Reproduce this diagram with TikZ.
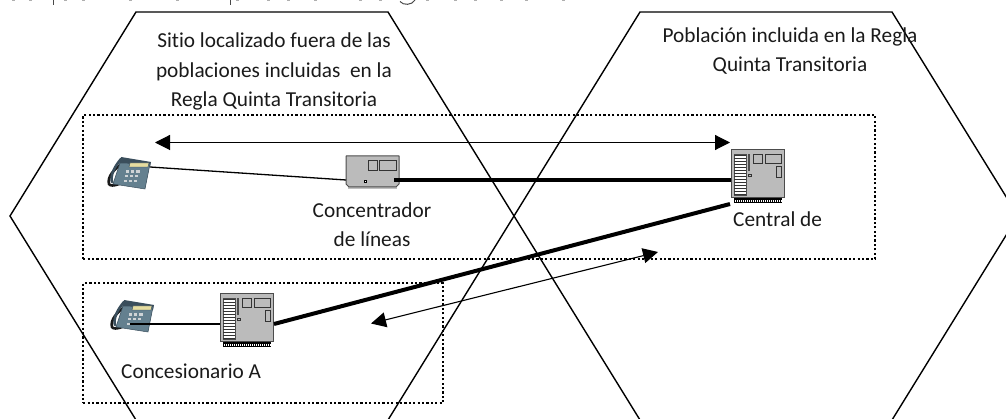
\documentclass[tikz,border=0pt]{standalone}
\usepackage{fontspec}
\setmainfont[Ligatures=NoCommon]{Carlito}
\usetikzlibrary{arrows.meta}
\definecolor{ink}{HTML}{1A1A1A}
\definecolor{boxgray}{HTML}{BBBBBB}
\definecolor{phoneblue}{HTML}{64808F}
\definecolor{phonedark}{HTML}{3A4E5C}
\definecolor{phonescreen}{HTML}{E6DDA0}
\tikzset{
  hexa/.style={draw=black,line width=1.4pt,line join=miter},
  dotbox/.style={draw=black,line width=2.4pt,dash pattern=on 2.2pt off 2.2pt},
  label/.style={text=ink,font=\fontsize{21.3}{29.5}\selectfont,align=center,inner sep=0pt},
  thinlink/.style={draw=black,line width=1.3pt},
  heavylink/.style={draw=black,line width=4pt},
  signal/.style={draw=black,line width=1.1pt,{Triangle[length=15pt,width=15pt]}-{Triangle[length=15pt,width=15pt]}},
  pics/central/.style={code={
    % origin = top-left corner of the 53x48 case
    \fill[black] (3,47) rectangle (51,53);
    \foreach \i in {0,2,...,46}{\fill[white] (4.3+\i,50) rectangle (4.9+\i,52);}
    \path[draw=black!70,fill=boxgray,line width=1pt] (0,0) rectangle (53,48);
    \path[draw=black!70,fill=white,line width=.6pt] (3,4) rectangle (15,45);
    \foreach \i in {0,1,...,13}{\fill[black!80] (3,4.6+\i*3) rectangle (15,6.2+\i*3);}
    \fill[black!70] (17,4) rectangle (19,21);
    \draw[black!80,line width=.7pt] (17.5,24.5) rectangle (20.5,26.5);
    \draw[black!80,line width=.9pt] (22,4) rectangle (31,13);
    \draw[black!80,line width=.9pt] (34,4) rectangle (50,13);
    \draw[black!80,line width=.9pt] (45,16) rectangle (50,27);
  }},
  pics/concentrator/.style={code={
    % origin = top-left corner of the 53x32 case
    \fill[black!25] (2,30) -- (51,30) -- (51,33) -- (2,33) -- cycle;
    \path[draw=black!70,fill=boxgray,line width=1pt,line join=round]
      (0,0) -- (53,0) -- (53,28) -- (50,31) -- (3,31) -- (0,28) -- cycle;
    \draw[black!80,line width=.9pt] (22,4) rectangle (31,14);
    \draw[black!80,line width=.9pt] (33,4) rectangle (50,14);
    \draw[black,fill=white,line width=.7pt] (18,24.5) rectangle (20.5,26.5);
  }},
  pics/phone/.style={code={
    % origin = top-left of the 44x32 picture
    \draw[black!90,line width=2.6pt,line cap=round] (16,6) .. controls (7,12) and (0,20) .. (2,27) .. controls (3,29) and (7,29) .. (12,27);
    \draw[phonedark,line width=2.6pt,line cap=round] (14,2) .. controls (8,9) and (3,18) .. (5,25);
    \path[fill=phonedark] (14,0) -- (44,5) -- (43,10) -- (12,8) -- cycle;
    \path[fill=phoneblue,draw=phonedark,line width=.5pt] (13,6) -- (43,7) -- (38,32) -- (6,27) -- cycle;
    \path[fill=phonescreen,draw=phonedark,line width=.4pt] (23,6) -- (42,6) -- (41,10) -- (22,10) -- cycle;
    \foreach \r in {0,1,2}{\foreach \c in {0,1,2}{
      \fill[white!75!phonedark] (19+\c*5.2-\r*1.2,13+\r*4.8) rectangle ++(3.2,2.6);}}
  }}
}
\begin{document}
\begin{tikzpicture}[x=1pt,y=-1pt]
\useasboundingbox (0,0) rectangle (1006,419);
\clip (0,0) rectangle (1006,419);
% cropped remainder of the line above the figure
\fill[ink!80] (52.5,0) rectangle (54,5.5);
\fill[ink!80] (229.5,0) rectangle (231,5.5);
\draw[ink!80,line width=1pt] (400,1.5) .. controls (403,5.5) and (412,5.5) .. (415,0);
\foreach \dx in {13,30,65,83,130,177,237,268,288,315,360,380,427,455,475,501,526,563}{
  \fill[ink!35] (\dx-1.5,0) rectangle (\dx+1.5,1);}
% hexagons
\draw[hexa] (136,12) -- (388,12) -- (514,216) -- (388,420) -- (136,420) -- (10,216) -- cycle;
\draw[hexa] (640,12) -- (892,12) -- (1018,216) -- (892,420) -- (640,420) -- (514,216) -- cycle;
% boundaries
\node[dotbox,minimum width=792pt,minimum height=144pt,inner sep=0pt,anchor=north west] (zoneA) at (82,114) {};
\node[dotbox,minimum width=360pt,minimum height=120pt,inner sep=0pt,anchor=north west] (zoneB) at (82,282) {};
% devices
\pic at (107,157) {phone};
\pic at (110,300) {phone};
\pic at (346,156) {concentrator};
\pic at (731,150) {central};
\pic at (220,294) {central};
% ports
\coordinate (phoneAport) at (150,167);
\coordinate (concW) at (346,180);
\coordinate (concE) at (394,180);
\coordinate (centralW) at (731,180);
\coordinate (centralSW) at (730,204);
\coordinate (phoneBport) at (130,324);
\coordinate (exchW) at (220,324);
\coordinate (exchE) at (274,324);
\coordinate (spanL) at (155,142.5);
\coordinate (spanR) at (730,142.5);
\coordinate (tiltR) at (658,252);
\coordinate (tiltL) at (371,323.5);
% connectors
\draw[thinlink] (phoneAport) -- (concW);
\draw[heavylink] (concE) -- (centralW);
\draw[thinlink] (phoneBport) -- (exchW);
\draw[heavylink] (exchE) -- (centralSW);
\draw[signal] (spanL) -- (spanR);
\draw[signal] (tiltL) -- (tiltR);
% labels
\node[label,anchor=base] (siteLbl) at (274,107) {Sitio localizado fuera de las\\poblaciones incluidas\ \ en la\\Regla Quinta Transitoria};
\node[label,anchor=base] (popLbl) at (790,72) {Población incluida en la Regla\\Quinta Transitoria};
\node[label,anchor=base] (concLbl) at (372,247) {Concentrador\\de líneas};
\node[label,anchor=base west] (centralLbl) at (733,227) {Central de};
\node[label,anchor=base west] (concesLbl) at (121,378) {Concesionario A};
\end{tikzpicture}
\end{document}
